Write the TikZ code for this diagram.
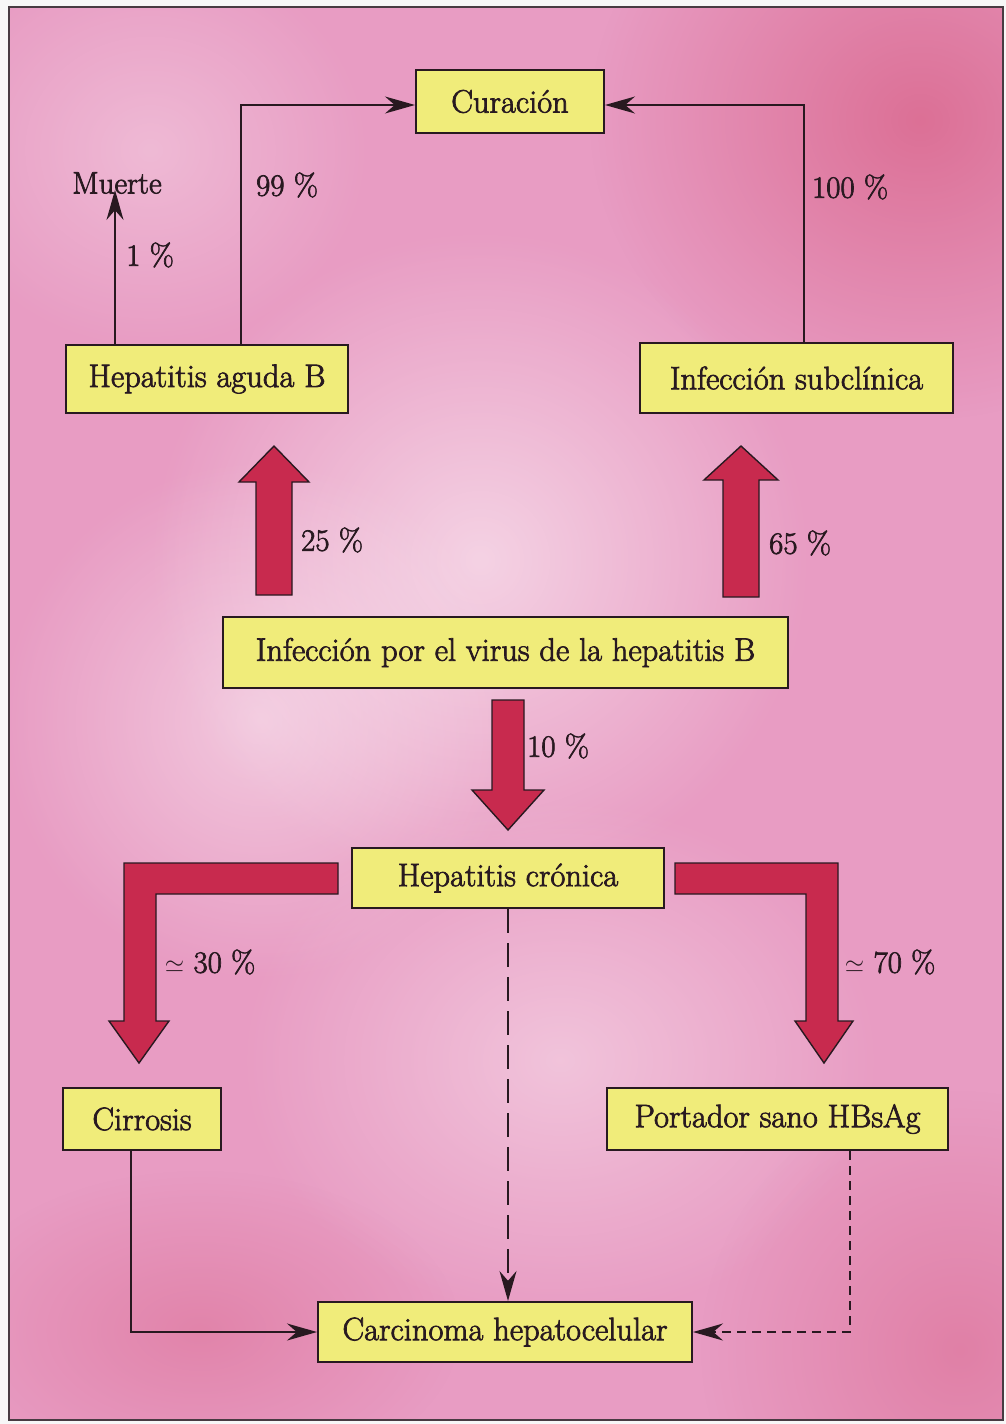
\documentclass[tikz,border=0pt]{standalone}
\usepackage{fontspec}
\newfontfamily\dfont{Latin Modern Roman}[FakeBold=2.2]
\usetikzlibrary{arrows.meta,calc,fadings}
\definecolor{bgpink}{RGB}{232,156,195}
\definecolor{boxyellow}{RGB}{240,236,122}
\definecolor{fatred}{RGB}{200,42,78}
\definecolor{ink}{RGB}{40,25,32}
\tikzfading[name=softblob, inner color=transparent!0, outer color=transparent!100]
\tikzset{
  box/.style={draw=ink, line width=2pt, fill=boxyellow, text=ink, inner sep=0pt, font=\dfont\fontsize{32.5}{36}\selectfont},
  lbl/.style={text=ink, inner sep=0pt, font=\dfont\fontsize{31}{34}\selectfont},
  thin/.style={draw=ink, line width=1.6pt, -{Stealth[length=30pt,width=17pt]}},
  fat/.style={fill=fatred, draw=ink, line width=1.4pt, line join=miter},
}
\newcommand\fatup[5]{% x, half shaft, half head, y bottom, y head base
  \path[fat] ({#1-#2},#4) -- ({#1-#2},#5) -- ({#1-#3},#5) -- (#1,\fattip) -- ({#1+#3},#5) -- ({#1+#2},#5) -- ({#1+#2},#4) -- cycle;}
\begin{document}
\begin{tikzpicture}[x=1pt,y=-1pt]
\useasboundingbox (0,0) rectangle (1006,1424);
\fill[white!94!gray] (0,0) rectangle (1006,1424);
\fill[bgpink] (9,7) rectangle (1003,1420);
\begin{scope}
\clip (9,7) rectangle (1003,1420);
\fill[white, opacity=0.55, path fading=softblob] (480,560) ellipse (330 and 330);
\fill[white, opacity=0.45, path fading=softblob] (260,720) ellipse (260 and 260);
\fill[white, opacity=0.4, path fading=softblob] (560,1060) ellipse (320 and 260);
\fill[white, opacity=0.3, path fading=softblob] (150,150) ellipse (220 and 200);
\fill[fatred!70!bgpink, opacity=0.55, path fading=softblob] (920,120) ellipse (330 and 300);
\fill[fatred!70!bgpink, opacity=0.35, path fading=softblob] (960,1350) ellipse (260 and 260);
\fill[fatred!70!bgpink, opacity=0.3, path fading=softblob] (200,1330) ellipse (260 and 160);
\end{scope}
\draw[ink!85, line width=1.5pt] (9,7) rectangle (1003,1420);

% boxes
\node[box, minimum width=188pt, minimum height=63pt] (cur) at (510,101.5) {Curación};
\node[box, minimum width=282pt, minimum height=68pt] (hag) at (207,379) {Hepatitis aguda B};
\node[box, minimum width=313pt, minimum height=70pt] (isub) at (796.5,378) {Infección subclínica};
\node[box, minimum width=565pt, minimum height=71pt] (ivir) at (505.5,652.5) {Infección por el virus de la hepatitis B};
\node[box, minimum width=312pt, minimum height=60pt] (hcr) at (508,878) {Hepatitis crónica};
\node[box, minimum width=158pt, minimum height=62pt] (cir) at (142,1119) {Cirrosis};
\node[box, minimum width=341pt, minimum height=62pt] (port) at (777.5,1119) {Portador sano HBsAg};
\node[box, minimum width=374pt, minimum height=60pt] (car) at (505,1332) {Carcinoma hepatocelular};

% labels
\node[lbl] (muerte) at (117,183) {Muerte};
\node[lbl] at (150,255) {1 \%};
\node[lbl] at (287,185) {99 \%};
\node[lbl] at (850,187) {100 \%};
\node[lbl] at (332,540) {25 \%};
\node[lbl] at (800,543) {65 \%};
\node[lbl] at (558,746) {10 \%};
\node[lbl] at (210,962) {$\simeq$ 30 \%};
\node[lbl] at (890,962) {$\simeq$ 70 \%};

% thin connectors
\draw[thin] ([xshift=34pt]hag.north) |- ([yshift=-3.5pt]cur.west);
\draw[thin] ([xshift=-92pt]hag.north) -- ([xshift=-2pt,yshift=4pt]muerte.south);
\draw[thin] ([xshift=7.5pt]isub.north) |- ([yshift=-3.5pt]cur.east);
\draw[thin, dash pattern=on 24pt off 10pt] (hcr.south) -- (hcr.south |- car.north);
\draw[thin] ([xshift=-11pt]cir.south) |- (car.west);
\draw[thin, dash pattern=on 9pt off 6pt] ([xshift=72.5pt]port.south) |- (car.east);

% fat arrows
\def\fattip{446}
\fatup{274}{18}{35}{595}{482}
\fatup{741}{18}{37}{597}{480}
\path[fat] (492,700) -- (492,790) -- (472,790) -- (508,830) -- (544,790) -- (524,790) -- (524,700) -- cycle;
\path[fat] (338,863) -- (124,863) -- (124,1021) -- (109,1021) -- (139,1063) -- (169,1021) -- (156,1021) -- (156,894) -- (338,894) -- cycle;
\path[fat] (675,863) -- (838,863) -- (838,1021) -- (853,1021) -- (824,1063) -- (795,1021) -- (806,1021) -- (806,894) -- (675,894) -- cycle;
\end{tikzpicture}
\end{document}
